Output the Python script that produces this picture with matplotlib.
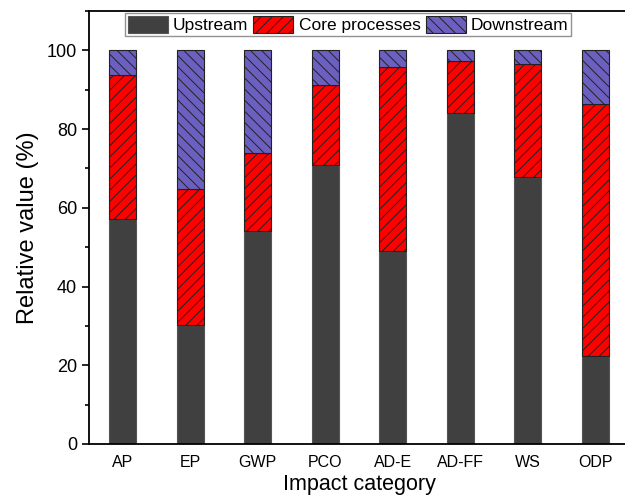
import numpy as np
import matplotlib
matplotlib.use("Agg")
import matplotlib.pyplot as plt
from matplotlib.ticker import MultipleLocator

plt.rcParams["font.family"] = ["Liberation Sans", "DejaVu Sans"]
plt.rcParams["hatch.linewidth"] = 0.7
plt.rcParams["hatch.color"] = "black"

categories = ["AP", "EP", "GWP", "PCO", "AD-E", "AD-FF", "WS", "ODP"]
upstream = [57.2, 30.2, 54.0, 71.0, 49.0, 84.2, 67.9, 22.4]
core = [36.5, 34.6, 19.9, 20.1, 46.8, 13.2, 28.6, 63.9]
downstream = [6.3, 35.2, 26.1, 8.9, 4.2, 2.6, 3.5, 13.7]

fig = plt.figure(figsize=(6.25, 4.99), dpi=100)
ax = fig.add_axes([89 / 625, 55 / 499, 540 / 625, 433 / 499])

x = np.arange(1, len(categories) + 1)
w = 0.4
up = np.array(upstream)
co = np.array(core)
dn = np.array(downstream)

ax.bar(x, up, w, color="#404040", edgecolor="#555555", lw=0.8,
       label="Upstream")
ax.bar(x, co, w, bottom=up, color="#ff0000", edgecolor="#222222", lw=0.8,
       hatch="///", label="Core processes")
ax.bar(x, dn, w, bottom=up + co, color="#6b60c0", edgecolor="#222222",
       lw=0.8, hatch="\\\\\\", label="Downstream")

ax.set_xlim(0.5, 8.5)
ax.set_ylim(0, 110)
ax.set_xticks(x)
ax.set_xticklabels(categories, fontsize=11.5)
ax.set_yticks([0, 20, 40, 60, 80, 100])
ax.yaxis.set_minor_locator(MultipleLocator(10))
ax.tick_params(axis="y", which="major", length=5, width=1.2, labelsize=13)
ax.tick_params(axis="y", which="minor", length=3, width=1.2)
ax.tick_params(axis="x", length=0, pad=8)
for sp in ["left", "bottom", "top"]:
    ax.spines[sp].set_linewidth(1.3)
ax.spines["right"].set_visible(False)

ax.set_xlabel("Impact category", fontsize=15.5, labelpad=3)
ax.set_ylabel("Relative value (%)", fontsize=17, labelpad=6)

leg = ax.legend(loc="upper center", bbox_to_anchor=(259 / 540, 0.995), ncol=3,
                fontsize=12.5, frameon=True, fancybox=False,
                edgecolor="#777777", handlelength=2.3, handleheight=1.15,
                handletextpad=0.3, columnspacing=0.3, borderpad=0.15,
                borderaxespad=0.0)
leg.get_frame().set_linewidth(1.0)

fig.savefig("out.png", dpi=100)
